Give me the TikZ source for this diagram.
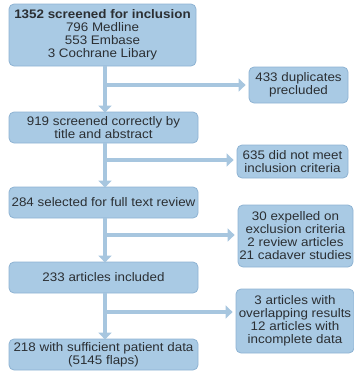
\documentclass[tikz,border=0pt]{standalone}
\usepackage{fontspec}
\setmainfont{Liberation Sans}[FakeStretch=1.08]
\usetikzlibrary{arrows.meta}
\definecolor{boxfill}{HTML}{A9CAE4}
\definecolor{boxline}{HTML}{8EB3D3}
\definecolor{arrcol}{HTML}{A7C6DF}
\definecolor{txt}{HTML}{2B2F33}
\tikzset{
  box/.style={draw=boxline, fill=boxfill, line width=0.8pt, rounded corners=5pt,
    align=center, text=txt, inner sep=0pt, font=\fontsize{12.4}{13}\selectfont},
  arr/.style={draw=arrcol, line width=4pt, -{Triangle[length=7pt,width=13pt]}},
  ln/.style={draw=arrcol, line width=4pt}
}
\begin{document}
\begin{tikzpicture}[x=1pt,y=-1pt]
\useasboundingbox (0,0) rectangle (354,373);
% main boxes
\node[box, minimum width=187pt, minimum height=62pt] (B1) at (102.5,35)
  {\textbf{1352 screened for inclusion}\\796 Medline\\553 Embase\\3 Cochrane Libary};
\node[box, minimum width=189pt, minimum height=31pt] (B2) at (103.5,127.5)
  {919 screened correctly by\\title and abstract};
\node[box, minimum width=189pt, minimum height=31pt] (B3) at (103.5,202.5)
  {284 selected for full text review};
\node[box, minimum width=189pt, minimum height=31pt] (B4) at (103.5,277.5)
  {233 articles included};
\node[box, minimum width=189pt, minimum height=31pt] (B5) at (103.5,354.5)
  {218 with sufficient patient data\\(5145 flaps)};
% side boxes
\node[box, minimum width=99pt, minimum height=36pt] (S1) at (298.5,85)
  {433 duplicates\\precluded};
\node[box, minimum width=111pt, minimum height=33pt] (S2) at (292.5,161.5)
  {635 did not meet\\inclusion criteria};
\node[box, minimum width=115pt, minimum height=62pt] (S3) at (295.5,236)
  {30 expelled on\\exclusion criteria\\2 review articles\\21 cadaver studies};
\node[box, minimum width=118pt, minimum height=64pt] (S4) at (295,321)
  {3 articles with\\overlapping results\\12 articles with\\incomplete data};
% junctions
\coordinate (j1) at (105,85);
\coordinate (j2) at (105,160);
\coordinate (j3) at (105,235);
\coordinate (j4) at (105,312);
% vertical arrows
\draw[arr] (B1.south -| j1) -- ([yshift=-1pt]B2.north -| j1);
\draw[arr] (B2.south -| j1) -- ([yshift=-1pt]B3.north -| j1);
\draw[arr] (B3.south -| j1) -- ([yshift=-1pt]B4.north -| j1);
\draw[arr] (B4.south -| j1) -- ([yshift=-1pt]B5.north -| j1);
% branches
\draw[arr] ([xshift=-2pt]j1) -- ([xshift=-3pt]S1.west |- j1);
\draw[arr] ([xshift=-2pt]j2) -- ([xshift=-3pt]S2.west |- j2);
\draw[arr] ([xshift=-2pt]j3) -- ([xshift=-3pt]S3.west |- j3);
\draw[arr] ([xshift=-2pt]j4) -- ([xshift=-3pt]S4.west |- j4);
\end{tikzpicture}
\end{document}
